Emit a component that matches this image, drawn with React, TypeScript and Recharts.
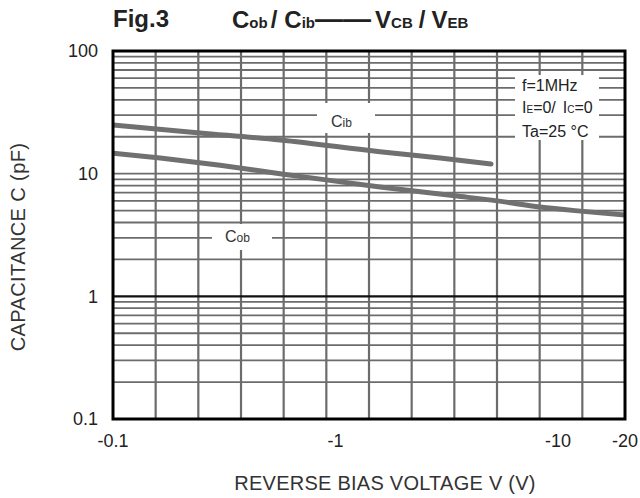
import React from 'react';
import { LineChart, Line, XAxis, YAxis, ReferenceLine, ReferenceArea } from 'recharts';

const FONT = '"Liberation Sans", Arial, Helvetica, sans-serif';

// axis labels
const xTicks = [0.1, 1, 10, 20];
const yTicks = [0.1, 1, 10, 100];

// vertical grid: 12 equal steps on the log axis between 0.1 and 20
const xGrid = [0.1555, 0.2418, 0.3761, 0.5848, 0.9094, 1.4142, 2.1993, 3.42, 5.3183, 8.2706, 12.8615];
// horizontal grid, 2..9 of each decade (+10)
const yGrid = [
  0.2, 0.3, 0.4, 0.5, 0.6, 0.7, 0.8, 0.9,
  2, 3, 4, 5, 6, 7, 8, 9, 10,
  20, 30, 40, 50, 60, 70, 80, 90,
];
const yDark = [1];

// |V| in volts, C in pF
const cibData = [
  { v: 0.1, c: 24.9 },
  { v: 0.246, c: 21.5 },
  { v: 0.563, c: 18.8 },
  { v: 1.585, c: 15.1 },
  { v: 2.95, c: 13.4 },
  { v: 5.0, c: 12.0 },
];
const cobData = [
  { v: 0.1, c: 14.7 },
  { v: 0.163, c: 13.4 },
  { v: 0.303, c: 11.7 },
  { v: 0.563, c: 10.0 },
  { v: 0.906, c: 8.9 },
  { v: 1.585, c: 7.8 },
  { v: 3.44, c: 6.6 },
  { v: 5.32, c: 6.0 },
  { v: 8.3, c: 5.35 },
  { v: 12.6, c: 4.95 },
  { v: 20, c: 4.6 },
];

const GRID = '#6c6c6c';
const CURVE = '#707070';
const TEXT = '#222';

const sub = (size: number): React.CSSProperties => ({ fontSize: size });

const App = () => {
  return (
    <div style={{ position: 'absolute', left: 0, top: 0, width: 640, height: 498, fontFamily: FONT, color: TEXT, background: '#fff' }}>
      <LineChart width={640} height={498} margin={{ top: 51, right: 15, bottom: 0, left: 0 }}>
        <XAxis
          dataKey="v"
          type="number"
          scale="log"
          domain={[0.1, 20]}
          ticks={xTicks}
          interval={0}
          allowDataOverflow
          axisLine={false}
          tickLine={false}
          tickSize={6}
          tickMargin={9}
          height={79}
          tick={{ fill: TEXT, fontSize: 18, fontFamily: FONT }}
          tickFormatter={(v: number) => '-' + v}
        />
        <YAxis
          dataKey="c"
          type="number"
          scale="log"
          domain={[0.1, 100]}
          ticks={yTicks}
          interval={0}
          allowDataOverflow
          axisLine={false}
          tickLine={false}
          tickSize={6}
          tickMargin={9}
          width={113}
          tick={{ fill: TEXT, fontSize: 18, fontFamily: FONT }}
          tickFormatter={(v: number) => String(v)}
        />
        {xGrid.map((g) => (
          <ReferenceLine key={'x' + g} x={g} stroke={GRID} strokeWidth={2.2} zIndex={-10} />
        ))}
        {yGrid.map((g) => (
          <ReferenceLine key={'y' + g} y={g} stroke={GRID} strokeWidth={1.8} zIndex={-10} />
        ))}
        {yDark.map((g) => (
          <ReferenceLine key={'d' + g} y={g} stroke="#111" strokeWidth={2.4} zIndex={-5} />
        ))}
        <Line data={cobData} dataKey="c" type="monotone" stroke={CURVE} strokeWidth={5} dot={false} strokeLinecap="round" isAnimationActive={false} />
        <Line data={cibData} dataKey="c" type="monotone" stroke={CURVE} strokeWidth={5} dot={false} strokeLinecap="round" isAnimationActive={false} />
        <ReferenceArea x1={0.1} x2={20} y1={0.1} y2={100} fill="none" stroke="#000" strokeWidth={3} zIndex={600} />
      </LineChart>

      {/* title */}
      <div style={{ position: 'absolute', left: 113, top: 4, lineHeight: '30px', fontSize: 24, fontWeight: 'bold', whiteSpace: 'nowrap' }}>
        Fig.3
      </div>
      <div style={{ position: 'absolute', left: 232, top: 4, lineHeight: '30px', fontSize: 24, fontWeight: 'bold', whiteSpace: 'nowrap' }}>
        <span>C</span>
        <span style={sub(15)}>ob</span>
        <span style={{ marginLeft: 3 }}>/</span>
        <span style={{ marginLeft: 7 }}>C</span>
        <span style={sub(15)}>ib</span>
        <span style={{ fontSize: 28 }}>——</span>
        <span style={{ marginLeft: 4 }}>V</span>
        <span style={sub(15)}>CB</span>
        <span style={{ marginLeft: 6 }}>/</span>
        <span style={{ marginLeft: 6 }}>V</span>
        <span style={sub(15)}>EB</span>
      </div>

      {/* conditions box */}
      <div style={{ position: 'absolute', left: 515, top: 75, width: 84, height: 65, background: '#fff' }} />
      <div style={{ position: 'absolute', left: 522, top: 75, lineHeight: '22px', fontSize: 16, whiteSpace: 'nowrap' }}>
        <div>f=1MHz</div>
        <div>
          I<span style={sub(10)}>E</span>=0/<span style={{ marginLeft: 7 }}>I</span>
          <span style={sub(10)}>C</span>=0
        </div>
        <div>Ta=25 °C</div>
      </div>

      {/* curve labels */}
      <div style={{ position: 'absolute', left: 317, top: 103, width: 58, height: 30, background: '#fff' }} />
      <div style={{ position: 'absolute', left: 331, top: 108, lineHeight: '28px', fontSize: 16, whiteSpace: 'nowrap', color: '#333' }}>
        C<span style={sub(12)}>ib</span>
      </div>
      <div style={{ position: 'absolute', left: 212, top: 224, width: 60, height: 26, background: '#fff' }} />
      <div style={{ position: 'absolute', left: 225, top: 224, lineHeight: '26px', fontSize: 16, whiteSpace: 'nowrap', color: '#333' }}>
        C<span style={sub(12)}>ob</span>
      </div>

      {/* axis titles */}
      <div
        style={{
          position: 'absolute',
          left: 18,
          top: 247,
          transform: 'translate(-50%, -50%) rotate(-90deg)',
          fontSize: 20,
          letterSpacing: 0.4,
          whiteSpace: 'nowrap',
          color: '#333',
        }}
      >
        CAPACITANCE C (pF)
      </div>
      <div
        style={{
          position: 'absolute',
          left: 385,
          top: 483,
          transform: 'translate(-50%, -50%)',
          fontSize: 20,
          letterSpacing: 0.25,
          whiteSpace: 'nowrap',
          color: '#333',
        }}
      >
        REVERSE BIAS VOLTAGE V (V)
      </div>
    </div>
  );
};

export default App;
